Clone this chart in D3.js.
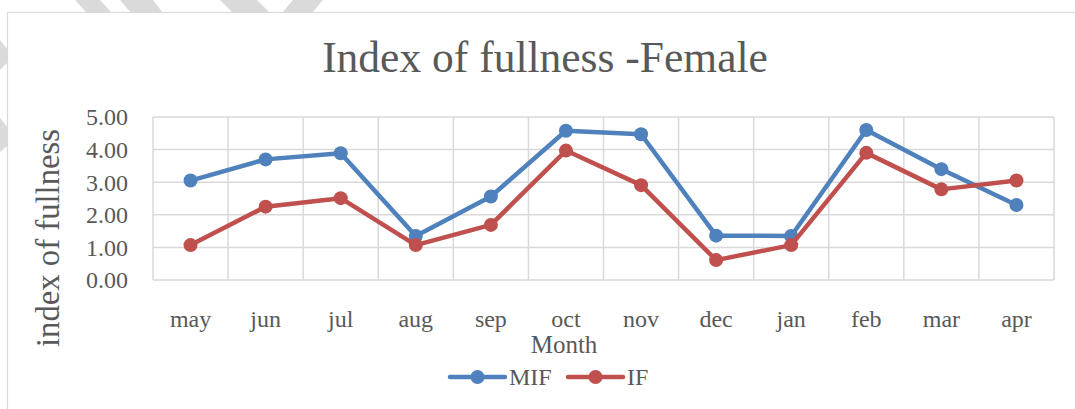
<!DOCTYPE html>
<html>
<head>
<meta charset="utf-8">
<script src="https://cdn.jsdelivr.net/npm/d3@7"></script>
<style>
  body { margin: 0; background: #fff; }
  text { font-family: "Liberation Serif", "DejaVu Serif", serif; fill: #595959; }
</style>
</head>
<body>
<div id="chart"></div>
<script>
// data
var months = ['may','jun','jul','aug','sep','oct','nov','dec','jan','feb','mar','apr'];
var mif = [3.05, 3.70, 3.89, 1.35, 2.56, 4.58, 4.47, 1.36, 1.35, 4.60, 3.40, 2.30];
var ifv = [1.07, 2.25, 2.51, 1.07, 1.69, 3.97, 2.91, 0.61, 1.07, 3.90, 2.78, 3.05];
var yTicks = [0, 1, 2, 3, 4, 5];
var seriesNames = ['MIF', 'IF'];

var W = 1075, H = 409;
var colors = { MIF: '#4F81BD', IF: '#C0504D' };

var svg = d3.select('#chart').append('svg')
            .attr('width', W)
            .attr('height', H);

// faint grey stripes from the scan, sitting behind the chart frame
var stripes = [
  [[75,0],[100,0],[112,13],[87,13]],
  [[120,0],[153,0],[163,13],[131,13]],
  [[220,0],[257,0],[270,13],[233,13]],
  [[293,0],[323,0],[312,13],[282,13]],
  [[0,40],[8,50],[8,62],[0,70]],
  [[0,118],[8,128],[8,145],[0,152]]
];
svg.selectAll('polygon.stripe')
   .data(stripes)
   .enter()
   .append('polygon')
   .attr('class', 'stripe')
   .attr('points', function(d) { return d.join(' '); })
   .style('fill', '#dadada');

// chart area frame
svg.append('rect')
   .attr('x', 7.5).attr('y', 12.5)
   .attr('width', W + 10).attr('height', H + 10)
   .style('fill', '#fff')
   .style('stroke', '#d9d9d9')
   .style('stroke-width', 1.2);

var x = d3.scaleBand().domain(months).range([153, 1054]).padding(0);
var y = d3.scaleLinear().domain([0, 5]).range([280, 117]);
var cx = function(m) { return x(m) + x.bandwidth() / 2; };

// gridlines
var grid = svg.append('g');
grid.selectAll('line.h')
    .data(yTicks)
    .enter()
    .append('line')
    .attr('x1', 153).attr('x2', 1054)
    .attr('y1', function(d) { return y(d); })
    .attr('y2', function(d) { return y(d); })
    .style('stroke', '#d9d9d9').style('stroke-width', 1.5);

grid.selectAll('line.v')
    .data(months.concat(['end']))
    .enter()
    .append('line')
    .attr('x1', function(d, i) { return i < months.length ? x(d) : 1054; })
    .attr('x2', function(d, i) { return i < months.length ? x(d) : 1054; })
    .attr('y1', y(5)).attr('y2', y(0))
    .style('stroke', '#d9d9d9').style('stroke-width', 1.5);

// y tick labels
svg.selectAll('text.ytick')
   .data(yTicks)
   .enter()
   .append('text')
   .attr('x', 128)
   .attr('y', function(d) { return y(d); })
   .attr('dy', '0.35em')
   .attr('text-anchor', 'end')
   .style('font-size', '24px')
   .text(function(d) { return d3.format('.2f')(d); });

// x tick labels
svg.selectAll('text.xtick')
   .data(months)
   .enter()
   .append('text')
   .attr('x', cx)
   .attr('y', 327)
   .attr('text-anchor', 'middle')
   .style('font-size', '24px')
   .text(function(d) { return d; });

// titles
svg.append('text')
   .attr('x', 545).attr('y', 72)
   .attr('text-anchor', 'middle')
   .style('font-size', '43.5px')
   .text('Index of fullness -Female');

svg.append('text')
   .attr('x', 564).attr('y', 353)
   .attr('text-anchor', 'middle')
   .style('font-size', '25px')
   .text('Month');

svg.append('text')
   .attr('transform', 'translate(59,238) rotate(-90)')
   .attr('text-anchor', 'middle')
   .attr('textLength', 218)
   .attr('lengthAdjust', 'spacingAndGlyphs')
   .style('font-size', '34px')
   .text('index of fullness');

// series
var series = [
  { name: 'MIF', values: mif },
  { name: 'IF', values: ifv }
];

var line = d3.line()
             .x(function(d, i) { return cx(months[i]); })
             .y(function(d) { return y(d); });

series.forEach(function(s) {
  svg.append('path')
     .datum(s.values)
     .attr('d', line)
     .style('fill', 'none')
     .style('stroke', colors[s.name])
     .style('stroke-width', 4.5)
     .style('stroke-linejoin', 'round');

  svg.selectAll('circle.' + s.name)
     .data(s.values)
     .enter()
     .append('circle')
     .attr('cx', function(d, i) { return cx(months[i]); })
     .attr('cy', function(d) { return y(d); })
     .attr('r', 7)
     .style('fill', colors[s.name]);
});

// legend
var legendX = [450, 568];
var legend = svg.selectAll('g.legend')
                .data(seriesNames)
                .enter()
                .append('g')
                .attr('transform', function(d, i) { return 'translate(' + legendX[i] + ',377)'; });

legend.append('line')
      .attr('x1', 0).attr('x2', 55)
      .style('stroke', function(d) { return colors[d]; })
      .style('stroke-width', 4.5)
      .style('stroke-linecap', 'round');

legend.append('circle')
      .attr('cx', 27.5).attr('r', 7)
      .style('fill', function(d) { return colors[d]; });

legend.append('text')
      .attr('x', 59).attr('y', 8)
      .style('font-size', '24px')
      .text(function(d) { return d; });
</script>
</body>
</html>
